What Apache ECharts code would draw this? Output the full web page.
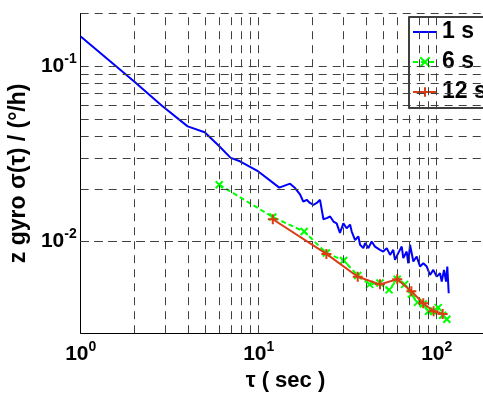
<!DOCTYPE html>
<html>
<head>
<meta charset="utf-8">
<script src="https://cdn.jsdelivr.net/npm/echarts@6/dist/echarts.min.js"></script>
<style>
html, body { margin: 0; padding: 0; background: #fff; }
#chart { width: 483px; height: 394px; }
</style>
</head>
<body>
<div id="chart"></div>
<script>
// allan deviation of z gyro, three sample rates
const tau1 = [1.0, 1.99, 2.86, 3.99, 4.97, 5.93, 6.96, 7.85, 9.95, 13.05, 15.0, 16.0, 17.1, 17.8, 18.6, 19.4, 20.3, 21.2, 22.1, 23.1,
    24.1, 25.2, 26.3, 27.4, 28.6, 29.9, 31.2, 32.6, 33.3, 34.8, 36.3, 37.1, 38.7, 39.6, 41.3, 43.1, 45.0, 48.0, 50.1, 52.4,
    54.7, 57.0, 58.3, 60.8, 63.6, 64.9, 67.8, 69.2, 70.8, 73.9, 77.2, 80.6, 84.1, 87.9, 91.7, 95.7, 100, 104.4, 106.7, 109.9,
    112.8, 114.7, 116.8]
const sig1 = [0.148, 0.0821, 0.0596, 0.0454, 0.0420, 0.0354, 0.0300, 0.0287, 0.0251, 0.0203, 0.0214, 0.0202, 0.0185, 0.0169, 0.0173, 0.0166, 0.0162, 0.0166, 0.0173, 0.0134,
    0.0136, 0.0139, 0.0130, 0.0127, 0.0112, 0.0127, 0.0119, 0.0125, 0.0114, 0.0102, 0.0107, 0.00958, 0.00917, 0.00979, 0.00917, 0.0100, 0.00936, 0.00897, 0.00877, 0.00917,
    0.00839, 0.00897, 0.00786, 0.00859, 0.00936, 0.00804, 0.00877, 0.00752, 0.00958, 0.00769, 0.00821, 0.00720, 0.00752, 0.00720, 0.00645, 0.00689, 0.00631, 0.00660, 0.00591, 0.00689,
    0.00591, 0.00720, 0.00507]

const tau6 = [6, 12, 18, 24, 30, 36, 42, 48, 54, 60, 66, 72, 78, 84, 90, 96, 102, 108, 114]
const sig6 = [0.0211, 0.0138, 0.0114, 0.0086, 0.0078, 0.0064, 0.0057, 0.0058, 0.0053, 0.0061, 0.0057, 0.0050, 0.0045, 0.0044, 0.0040, 0.0040, 0.0042, 0.0038, 0.0036]

const tau12 = [12, 24, 36, 48, 60, 72, 84, 96, 108]
const sig12 = [0.0134, 0.0085, 0.0063, 0.0057, 0.0061, 0.0052, 0.00445, 0.0040, 0.00386]

const seriesNames = ['1 s', '6 s', '12 s']

// decade labels, drawn as 10^n
const xTickVals = [1, 10, 100]
const xTickExps = ['0', '1', '2']
const yTickVals = [0.01, 0.1]
const yTickExps = ['-2', '-1']

// grid lines at every 1..9 x 10^n
const xGridVals = [2, 3, 4, 5, 6, 7, 8, 9, 10, 20, 30, 40, 50, 60, 70, 80, 90, 100, 200]
const yGridVals = [0.004, 0.005, 0.006, 0.007, 0.008, 0.009, 0.01, 0.02, 0.03, 0.04, 0.05, 0.06, 0.07, 0.08, 0.09, 0.1, 0.2]

const font = '"Liberation Sans", Arial, Helvetica, sans-serif'

function zip(xs, ys) { return xs.map(function (x, i) { return [x, ys[i]] }) }

function powLabel(vals, exps) {
    return function (v) {
        for (let i = 0; i < vals.length; i++) {
            if (Math.abs(Math.log10(v) - Math.log10(vals[i])) < 1e-6) {
                return '{b|10}{s|' + exps[i] + '}'
            }
        }
        return ''
    }
}

const labelRich = {
    b: { fontSize: 21, fontWeight: 'bold', fontFamily: font, color: '#000', lineHeight: 28 },
    s: { fontSize: 14, fontWeight: 'bold', fontFamily: font, color: '#000', verticalAlign: 'top', lineHeight: 16 }
}

const gridStyle = { type: [8, 6], color: '#404040', width: 1 }

const options = {
    animation: false,
    backgroundColor: '#fff',
    grid: {
        left: 80.7,
        top: 13.5,
        width: 409.6,
        height: 319.7,
        containLabel: false,
        outerBoundsMode: 'none'
    },
    legend: {
        orient: 'vertical',
        left: 409,
        top: 17,
        data: [
            { name: seriesNames[0], itemStyle: { opacity: 0 } },
            { name: seriesNames[1] },
            { name: seriesNames[2] }
        ],
        itemWidth: 24,
        itemHeight: 12,
        itemGap: 4,
        padding: [2, 12, 3, 3],
        borderColor: '#000',
        borderWidth: 1.5,
        backgroundColor: '#fff',
        textStyle: { fontSize: 23, fontWeight: 'bold', fontFamily: font, color: '#000', lineHeight: 26 }
    },
    xAxis: {
        type: 'log',
        logBase: 10,
        min: 1,
        max: 200,
        name: 'τ ( sec )',
        nameLocation: 'middle',
        nameGap: 37,
        nameTextStyle: { fontSize: 22, fontWeight: 'bold', fontFamily: font, color: '#000' },
        axisLine: { show: true, lineStyle: { color: '#000', width: 1 } },
        axisTick: { show: false },
        splitLine: { show: false },
        axisLabel: { margin: 7, formatter: powLabel(xTickVals, xTickExps), rich: labelRich, showMaxLabel: false }
    },
    yAxis: {
        type: 'log',
        logBase: 10,
        min: 0.003,
        max: 0.2,
        name: 'z gyro σ(τ) / (°/h)',
        nameLocation: 'middle',
        nameRotate: 90,
        nameGap: 44,
        nameTextStyle: { fontSize: 23, fontWeight: 'bold', fontFamily: font, color: '#000' },
        axisLine: { show: true, lineStyle: { color: '#000', width: 1 } },
        axisTick: { show: false },
        splitLine: { show: false },
        axisLabel: { margin: 4, formatter: powLabel(yTickVals, yTickExps), rich: labelRich, showMinLabel: false, showMaxLabel: false }
    },
    series: [
        {
            name: 'grid',
            type: 'line',
            z: 1,
            data: [],
            markLine: {
                silent: true,
                symbol: ['none', 'none'],
                label: { show: false },
                lineStyle: gridStyle,
                data: xGridVals.map(function (v) { return { xAxis: v } })
                    .concat(yGridVals.map(function (v) { return { yAxis: v } }))
            }
        },
        {
            name: seriesNames[0],
            type: 'line',
            z: 4,
            symbol: 'none',
            color: '#0000ff',
            lineStyle: { color: '#0000ff', width: 2 },
            data: zip(tau1, sig1)
        },
        {
            name: seriesNames[1],
            type: 'line',
            z: 3,
            symbol: 'path://M0,0L10,10M10,0L0,10',
            symbolSize: 7,
            color: '#00ff00',
            itemStyle: { color: '#00ff00', borderColor: '#00ff00', borderWidth: 2 },
            lineStyle: { color: '#00ff00', width: 2, type: [5, 3] },
            data: zip(tau6, sig6)
        },
        {
            name: seriesNames[2],
            type: 'line',
            z: 5,
            symbol: 'path://M5,0L5,10M0,5L10,5',
            symbolSize: 10,
            color: '#dc3c14',
            itemStyle: { color: '#dc3c14', borderColor: '#dc3c14', borderWidth: 2 },
            lineStyle: { color: '#dc3c14', width: 2 },
            data: zip(tau12, sig12)
        }
    ]
}

const chart = echarts.init(document.getElementById('chart'))
chart.setOption(options)
</script>
</body>
</html>
